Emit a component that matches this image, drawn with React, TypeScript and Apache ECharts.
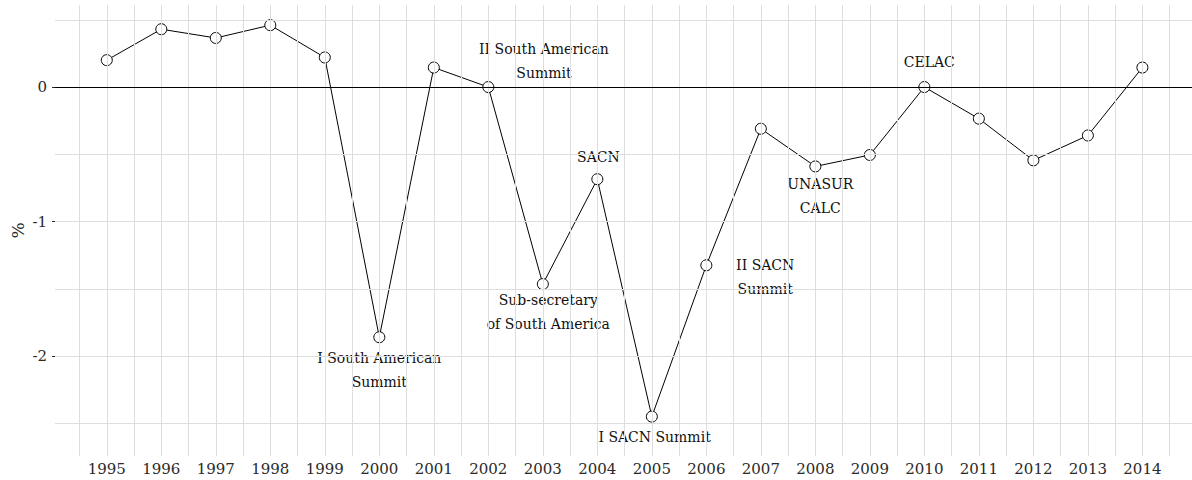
import React, { useEffect, useRef } from "react";
import * as echarts from "echarts";

const years = [1995, 1996, 1997, 1998, 1999, 2000, 2001, 2002, 2003, 2004, 2005, 2006, 2007, 2008, 2009, 2010, 2011, 2012, 2013, 2014];
const values = [0.2, 0.43, 0.365, 0.46, 0.22, -1.86, 0.145, 0.0, -1.465, -0.685, -2.45, -1.325, -0.31, -0.59, -0.505, 0.0, -0.235, -0.545, -0.36, 0.145];
const yTickLabels = [-2, -1, 0];
const yGridValues = [-2.5, -2, -1.5, -1, -0.5, 0.5];
const annotationText = [
  "I South American\nSummit",
  "II South American\nSummit",
  "SACN",
  "Sub-secretary\nof South America",
  "I SACN Summit",
  "II SACN\nSummit",
  "UNASUR\nCALC",
  "CELAC",
];
const annotationX = [2000.0, 2003.02, 2004.02, 2003.1, 2005.05, 2007.08, 2008.09, 2010.09];
const annotationY = [-2.104, 0.19, -0.517, -1.669, -2.602, -1.409, -0.807, 0.186];

const FONT = "DejaVu Serif";
const TEXT = "#2a2a2a";
const GRID = "#dedede";

export default function App() {
  const ref = useRef<HTMLDivElement>(null);
  useEffect(() => {
    if (!ref.current) return;
    const chart = echarts.init(ref.current, null, { renderer: "svg" });
    const xGrid: number[] = [];
    years.forEach((y) => {
      xGrid.push(y - 0.5);
      xGrid.push(y);
    });
    xGrid.push(years[years.length - 1] + 0.5);

    chart.setOption({
      animation: false,
      backgroundColor: "#ffffff",
      grid: { left: 55, right: 0, top: 5, bottom: 24, outerBoundsMode: "none", containLabel: false },
      xAxis: {
        type: "value",
        min: 1994.05,
        max: 2014.91,
        axisLine: { show: false },
        splitLine: { show: false },
        axisTick: { show: true, customValues: years, length: 4, lineStyle: { color: TEXT } },
        axisLabel: {
          customValues: years,
          fontFamily: FONT,
          fontSize: 15,
          color: TEXT,
          margin: 5,
          formatter: (v: number) => String(Math.round(v)),
        },
      },
      yAxis: {
        type: "value",
        min: -2.743,
        max: 0.61,
        name: "%",
        nameLocation: "middle",
        nameGap: 29,
        nameMoveOverlap: false,
        nameRotate: 90,
        nameTextStyle: { fontFamily: FONT, fontSize: 17, color: TEXT },
        axisLine: { show: false },
        splitLine: { show: false },
        axisTick: { show: true, customValues: yTickLabels, length: 3, lineStyle: { color: TEXT } },
        axisLabel: {
          customValues: yTickLabels,
          fontFamily: FONT,
          fontSize: 15,
          color: TEXT,
          margin: 8,
          formatter: (v: number) => String(Math.round(v)),
        },
      },
      series: [
        {
          type: "line",
          data: [],
          silent: true,
          z: 1,
          markLine: {
            silent: true,
            symbol: "none",
            animation: false,
            label: { show: false },
            lineStyle: { color: GRID, width: 1, type: "solid" },
            data: [
              ...xGrid.map((v) => ({ xAxis: v })),
              ...yGridValues.map((v) => ({ yAxis: v })),
            ],
          },
        },
        {
          type: "line",
          data: [],
          silent: true,
          z: 2,
          markLine: {
            silent: true,
            symbol: "none",
            animation: false,
            label: { show: false },
            lineStyle: { color: "#000000", width: 1, type: "solid" },
            data: [{ yAxis: 0 }],
          },
        },
        {
          type: "line",
          z: 3,
          data: years.map((y, i) => [y, values[i]]),
          lineStyle: { color: "#000000", width: 1 },
          symbol: "circle",
          symbolSize: 11,
          showAllSymbol: true,
          itemStyle: { color: "#ffffff", borderColor: "#000000", borderWidth: 1 },
        },
        {
          type: "scatter",
          z: 4,
          symbolSize: 0,
          silent: true,
          data: annotationText.map((t, i) => ({ value: [annotationX[i], annotationY[i]], name: t })),
          label: {
            show: true,
            position: "inside",
            formatter: (p: any) => p.name,
            fontFamily: FONT,
            fontSize: 14,
            lineHeight: 24,
            color: "#111111",
            opacity: 1,
            align: "center",
            verticalAlign: "middle",
          },
        },
      ],
    });
    return () => chart.dispose();
  }, []);
  return (
    <div
      ref={ref}
      style={{ position: "fixed", left: 0, top: 0, width: 1192, height: 480, background: "#fff" }}
    />
  );
}
